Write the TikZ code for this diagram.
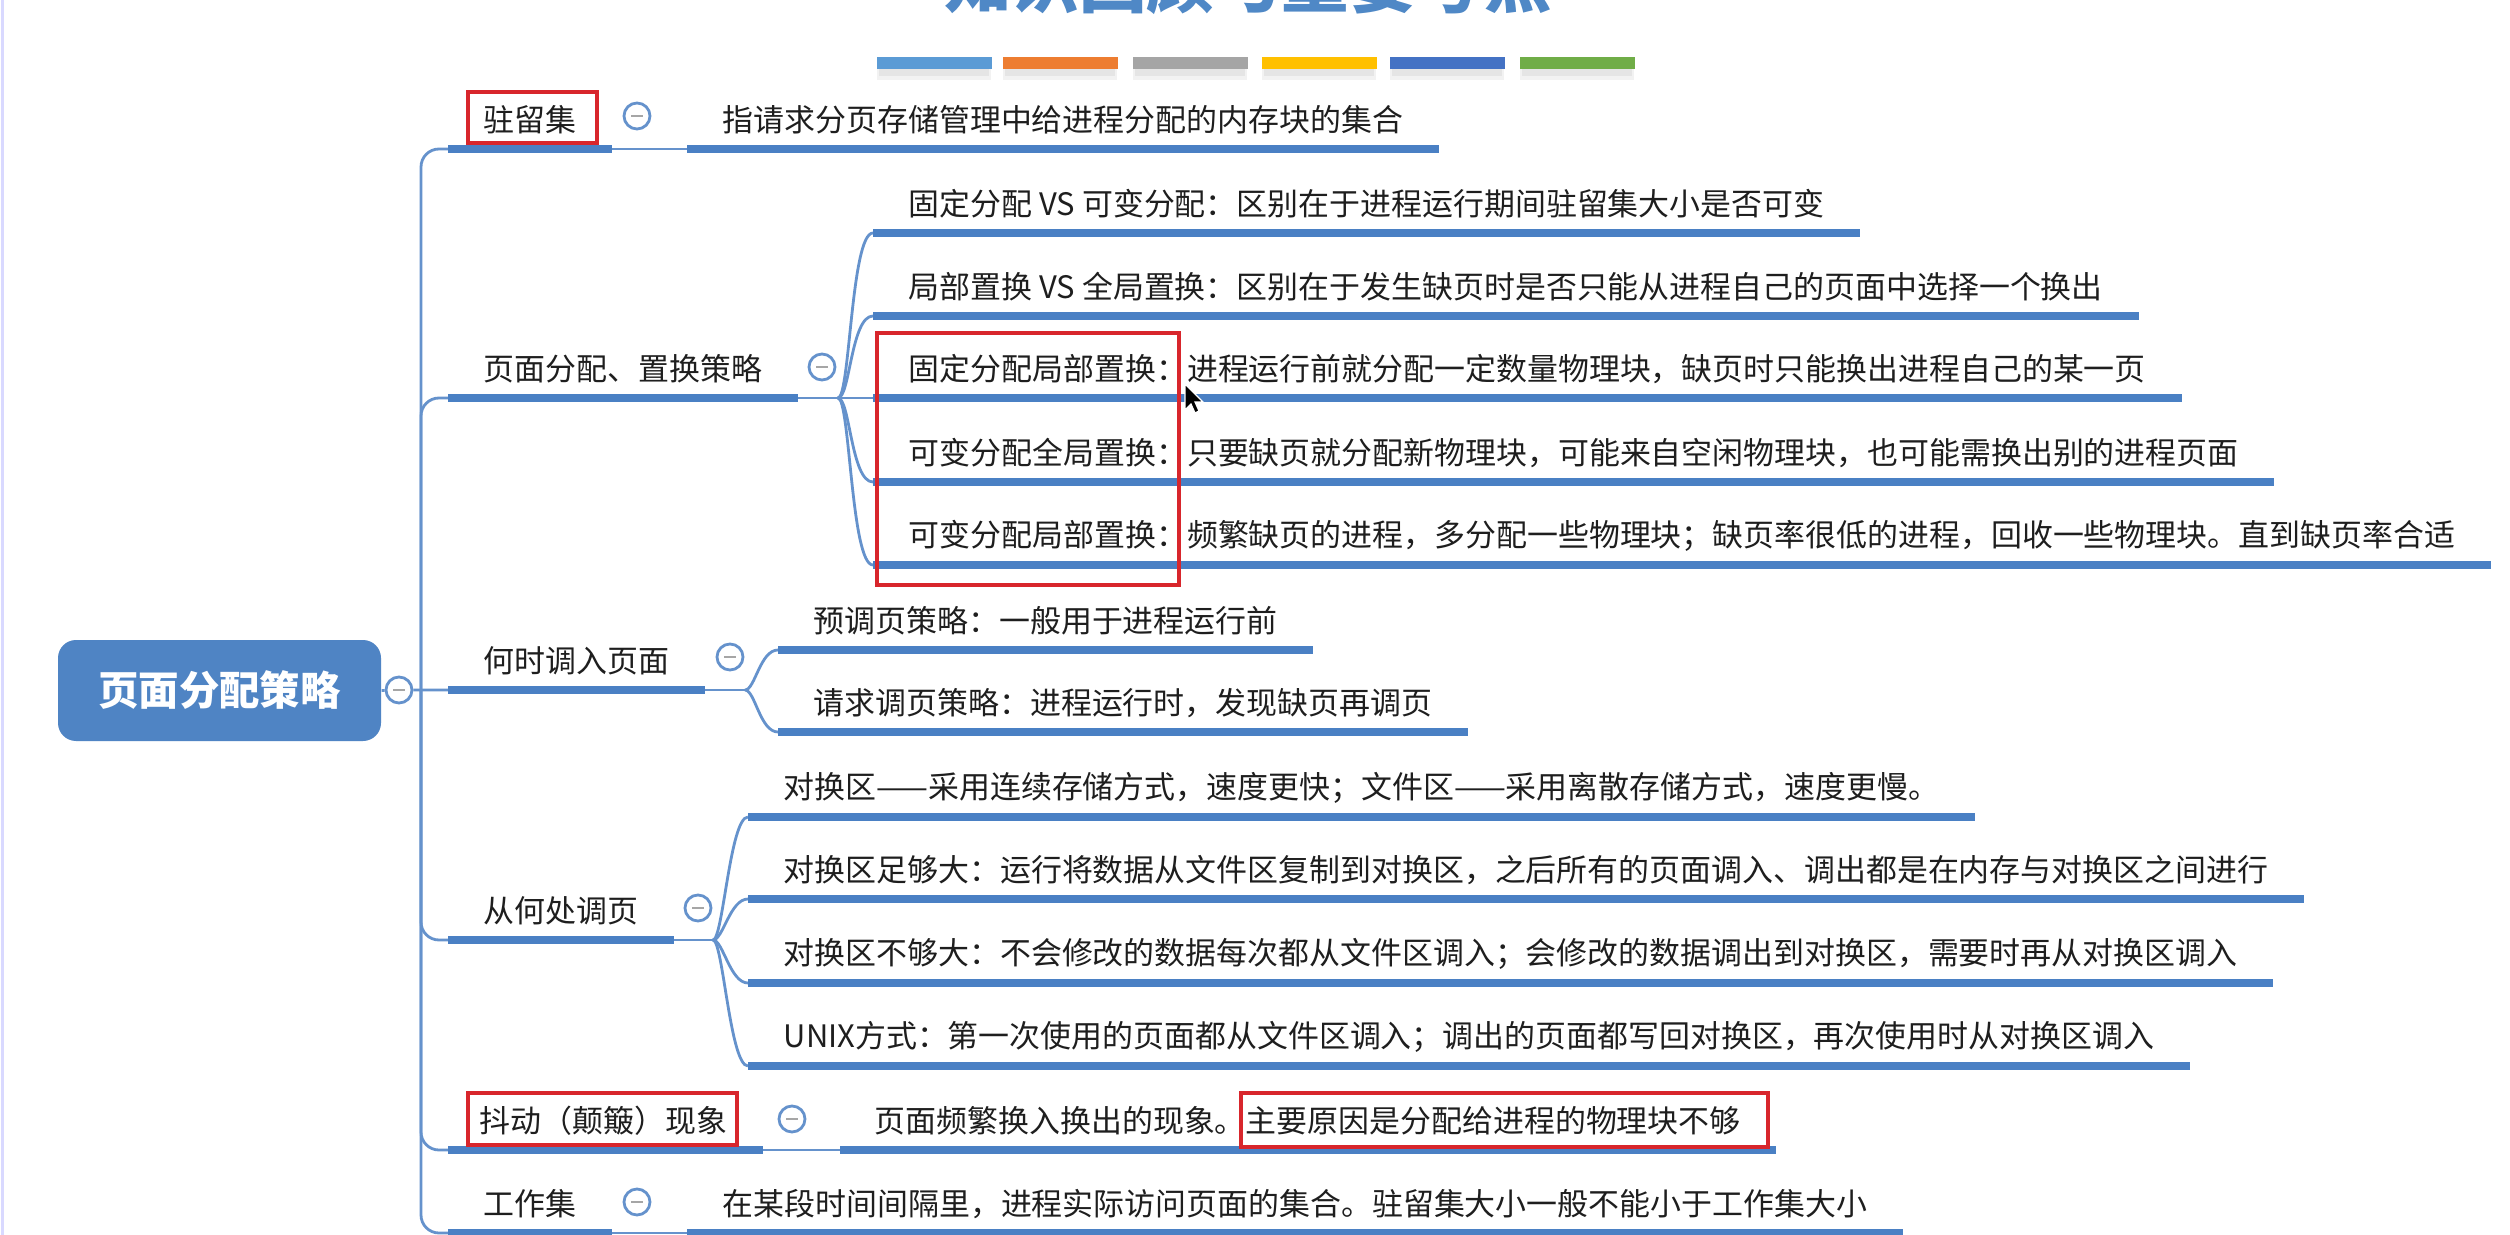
\documentclass[tikz,border=0pt]{standalone}
\usepackage{fontspec}
\setmainfont{Noto Sans CJK SC}
\definecolor{ulc}{HTML}{4A80C4}
\definecolor{cnc}{HTML}{6592CC}
\definecolor{rootc}{HTML}{4F84C4}
\definecolor{txtc}{HTML}{1E1E1E}
\definecolor{redc}{HTML}{D8262C}
\definecolor{titlec}{HTML}{4F88C6}
\definecolor{barA}{HTML}{5B9BD5}
\definecolor{barB}{HTML}{ED7D31}
\definecolor{barC}{HTML}{A5A5A5}
\definecolor{barD}{HTML}{FFC000}
\definecolor{barE}{HTML}{4472C4}
\definecolor{barF}{HTML}{70AD47}
\begin{document}
\begin{tikzpicture}[x=0.1mm,y=-0.1mm,
  ulline/.style={line width=0.75mm, draw=ulc},
  conn/.style={line width=0.28mm, draw=cnc},
  lbl/.style={anchor=west, inner sep=0pt, font=\fontsize{8.8}{10}\selectfont, text=txtc},
  mbtn/.style={circle, draw=cnc, fill=white, line width=0.28mm, minimum size=2.6mm, inner sep=0pt,
    path picture={\draw[gray!70, line width=0.2mm] ([xshift=-0.6mm]path picture bounding box.center) -- ([xshift=0.6mm]path picture bounding box.center);}},
  redbox/.style={draw=redc, line width=0.35mm},
  colorbar/.style={minimum width=11.5mm, minimum height=1.2mm, inner sep=0pt},
  rootbox/.style={rectangle, rounded corners=1.8mm, fill=rootc, text=white, minimum width=32.3mm, minimum height=10.1mm, inner sep=0pt, font=\bfseries\fontsize{11.5}{13}\selectfont},
]
\useasboundingbox (0,0) rectangle (2510,1235);
\clip (0,0) rectangle (2510,1235);
\fill[white] (0,0) rectangle (2510,1235);
\draw[line width=0.3mm, draw=blue!15] (2,0) -- (2,1235);

% title (cut off at the top)
\node[anchor=base, inner sep=0pt, text=titlec, font=\bfseries\fontsize{19.2}{21}\selectfont] (title) at (1248,8) {知识回顾与重要考点};

% colour bars
\foreach \cx/\cc [count=\i] in {934/barA,1060/barB,1190/barC,1319/barD,1447/barE,1577/barF}{
  \fill[black, opacity=0.05] (\cx-57,66) rectangle (\cx+57,80);
  \fill[black, opacity=0.05] (\cx-55,68) rectangle (\cx+55,76);
  \node[colorbar, fill=\cc] (bar\i) at (\cx,63) {};
}

% root
\node[rootbox] (root) at (219.5,690.5) {页面分配策略};
\node[mbtn] (rb) at (399,690) {};
\coordinate (tr) at (421,690);

% ---------- branch coordinates ----------
\coordinate (b1s) at (448,149);
\coordinate (b2s) at (448,398);
\coordinate (b3s) at (448,690);
\coordinate (b4s) at (448,940);
\coordinate (b5s) at (448,1150);
\coordinate (b6s) at (448,1233);

% branch labels
\node[lbl] (b1) at (483,120) {驻留集};
\node[lbl] (b2) at (483,369) {页面分配、置换策略};
\node[lbl] (b3) at (483,661) {何时调入页面};
\node[lbl] (b4) at (483,911) {从何处调页};
\node[lbl] (b5) at (479,1121) {抖动（颠簸）现象};
\node[lbl] (b6) at (483,1204) {工作集};

\coordinate (b1e) at ([xshift=3.5mm]b1.east |- b1s);
\coordinate (b2e) at ([xshift=3.5mm]b2.east |- b2s);
\coordinate (b3e) at ([xshift=3.5mm]b3.east |- b3s);
\coordinate (b4e) at ([xshift=3.5mm]b4.east |- b4s);
\coordinate (b5e) at ([xshift=3.5mm]b5.east |- b5s);
\coordinate (b6e) at ([xshift=3.5mm]b6.east |- b6s);

% hubs
\coordinate (h2) at (838,398);
\coordinate (h3) at (745,690);
\coordinate (h4) at (713,940);

% child underline starts
\coordinate (c11s) at (687,149);
\coordinate (c21s) at (873,233);
\coordinate (c22s) at (873,316);
\coordinate (c23s) at (873,398);
\coordinate (c24s) at (873,482);
\coordinate (c25s) at (873,565);
\coordinate (c31s) at (778,650);
\coordinate (c32s) at (778,732);
\coordinate (c41s) at (748,817);
\coordinate (c42s) at (748,899);
\coordinate (c43s) at (748,983);
\coordinate (c44s) at (748,1066);
\coordinate (c51s) at (840,1150);
\coordinate (c61s) at (687,1233);

% child labels
\node[lbl] (c11) at (722,120) {指请求分页存储管理中给进程分配的内存块的集合};
\node[lbl] (c21) at (908,204) {固定分配 VS 可变分配：区别在于进程运行期间驻留集大小是否可变};
\node[lbl] (c22) at (908,287) {局部置换 VS 全局置换：区别在于发生缺页时是否只能从进程自己的页面中选择一个换出};
\node[lbl] (c23) at (908,369) {固定分配局部置换：进程运行前就分配一定数量物理块，缺页时只能换出进程自己的某一页};
\node[lbl] (c24) at (908,453) {可变分配全局置换：只要缺页就分配新物理块，可能来自空闲物理块，也可能需换出别的进程页面};
\node[lbl] (c25) at (908,536) {可变分配局部置换：频繁缺页的进程，多分配一些物理块；缺页率很低的进程，回收一些物理块。直到缺页率合适};
\node[lbl] (c31) at (813,621) {预调页策略：一般用于进程运行前};
\node[lbl] (c32) at (813,703) {请求调页策略：进程运行时，发现缺页再调页};
\node[lbl] (c41) at (783,788) {对换区——采用连续存储方式，速度更快；文件区——采用离散存储方式，速度更慢。};
\node[lbl] (c42) at (783,870) {对换区足够大：运行将数据从文件区复制到对换区，之后所有的页面调入、调出都是在内存与对换区之间进行};
\node[lbl] (c43) at (783,954) {对换区不够大：不会修改的数据每次都从文件区调入；会修改的数据调出到对换区，需要时再从对换区调入};
\node[lbl] (c44) at (783,1037) {UNIX方式：第一次使用的页面都从文件区调入；调出的页面都写回对换区，再次使用时从对换区调入};
\node[lbl] (c51) at (874,1121) {页面频繁换入换出的现象。主要原因是分配给进程的物理块不够};
\node[lbl] (c61) at (722,1204) {在某段时间间隔里，进程实际访问页面的集合。驻留集大小一般不能小于工作集大小};

% ---------- thin connectors ----------
\draw[conn] (root.east) -- (rb) -- (b3s);
\foreach \b in {b1s,b2s,b4s,b5s,b6s}{
  \draw[conn, rounded corners=1.8mm] (tr) |- (\b);
}
\draw[conn] (b1e) -- (c11s);
\draw[conn] (b2e) -- (h2);
\draw[conn] (b3e) -- (h3);
\draw[conn] (b4e) -- (h4);
\draw[conn] (b5e) -- (c51s);
\draw[conn] (b6e) -- (c61s);
\foreach \c in {c21s,c22s,c23s,c24s,c25s}{
  \draw[conn] (h2) .. controls +(12,0) and +(-22,0) .. (\c);
}
\foreach \c in {c31s,c32s}{
  \draw[conn] (h3) .. controls +(10,0) and +(-18,0) .. (\c);
}
\foreach \c in {c41s,c42s,c43s,c44s}{
  \draw[conn] (h4) .. controls +(10,0) and +(-18,0) .. (\c);
}

% ---------- underlines ----------
\foreach \b in {b1,b2,b3,b4,b5,b6}{
  \draw[ulline] (\b s) -- (\b e);
}
\foreach \c in {c11,c21,c22,c23,c24,c25,c31,c32,c41,c42,c43,c44,c51,c61}{
  \draw[ulline] (\c s) -- ([xshift=3.5mm]\c.east |- \c s);
}

% collapse buttons
\node[mbtn] (m1) at (637,116) {};
\node[mbtn] (m2) at (822,367) {};
\node[mbtn] (m3) at (730,657) {};
\node[mbtn] (m4) at (698,908) {};
\node[mbtn] (m5) at (792,1119) {};
\node[mbtn] (m6) at (637,1202) {};

% red annotation boxes
\draw[redbox] (468,92) rectangle (597,143);
\draw[redbox] (877,333) rectangle (1179,585);
\draw[redbox] (468,1093) rectangle (737,1145);
\draw[redbox] (1241,1093) rectangle (1768,1147);

% mouse cursor
\filldraw[fill=black, draw=white, line width=0.12mm, shift={(1185,384)}]
  (0,0) -- (0,26) -- (6,20) -- (10,29) -- (14,27) -- (10,18) -- (18,18) -- cycle;
\end{tikzpicture}
\end{document}
